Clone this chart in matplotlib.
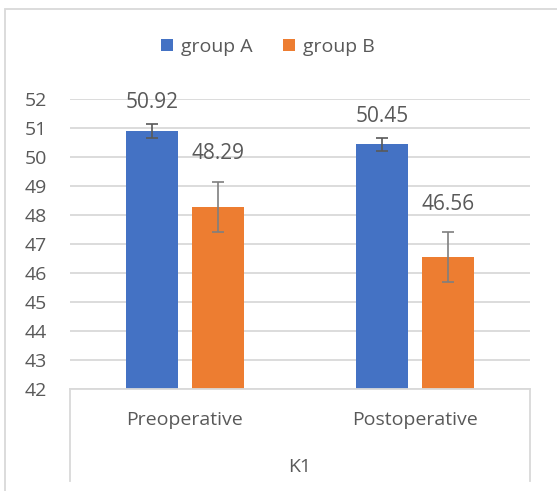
import matplotlib.pyplot as plt
from matplotlib.lines import Line2D
from matplotlib.patches import Rectangle
import numpy as np

# datos
categorias = ["Preoperative", "Postoperative"]
grupo_a = [50.92, 50.45]
grupo_b = [48.29, 46.56]
err_a = [0.24, 0.23]
err_b = [0.87, 0.86]
etiqueta_nivel2 = "K1"
yticks = list(range(42, 53))

plt.rcParams['font.family'] = ['Open Sans', 'DejaVu Sans']
gris_texto = "#595959"
gris_linea = "#d9d9d9"

fig = plt.figure(figsize=(5.57, 4.91), dpi=100)
W, H = 557, 491
ax = fig.add_axes([69.5 / W, 1 - 389 / H, (530 - 69.5) / W, (389 - 99.3) / H])

x = np.arange(len(categorias))
ancho = 0.226
sep = 0.143

ax.bar(x - sep, grupo_a, ancho, bottom=0, color="#4472C4", label="group A", zorder=3)
ax.bar(x + sep, grupo_b, ancho, bottom=0, color="#ED7D31", label="group B", zorder=3)
ax.errorbar(x - sep, grupo_a, yerr=err_a, fmt="none", ecolor="#595959",
            elinewidth=1.2, capsize=4.3, capthick=1.2, zorder=4)
ax.errorbar(x + sep, grupo_b, yerr=err_b, fmt="none", ecolor="#7f7f7f",
            elinewidth=1.2, capsize=4.3, capthick=1.2, zorder=4)

for xi, v, e in zip(x - sep, grupo_a, err_a):
    ax.annotate(f"{v:.2f}", (xi, v + e), xytext=(0, 7.5), textcoords="offset points",
                ha="center", va="bottom", fontsize=15, color=gris_texto)
for xi, v, e in zip(x + sep, grupo_b, err_b):
    ax.annotate(f"{v:.2f}", (xi, v + e), xytext=(0, 12.5), textcoords="offset points",
                ha="center", va="bottom", fontsize=15, color=gris_texto)

ax.set_ylim(42, 52)
ax.set_xlim(-0.5, len(categorias) - 0.5)
ax.set_yticks(yticks)
ax.tick_params(axis="y", length=0, pad=16, labelsize=14, labelcolor=gris_texto)
ax.set_xticks([])
ax.grid(axis="y", color=gris_linea, linewidth=1.3, zorder=0)
for s in ["top", "right", "left"]:
    ax.spines[s].set_visible(False)
ax.spines["bottom"].set_color(gris_linea)
ax.spines["bottom"].set_linewidth(1.3)
ax.spines["bottom"].set_zorder(5)

# etiquetas de categoria
for xi, c in zip(x, categorias):
    ax.text(xi, -31 / 289.0, c, transform=ax.get_xaxis_transform(),
            ha="center", va="center", fontsize=14, color=gris_texto)
ax.text(0.5, -(466.7 - 389) / 289.0, etiqueta_nivel2, transform=ax.transAxes,
        ha="center", va="center", fontsize=14, color=gris_texto)

# lineas verticales del eje de categorias
for px in [69.5, 530]:
    fig.add_artist(Line2D([px / W, px / W], [1 - 389 / H, 1 - 481 / H],
                          color=gris_linea, linewidth=1.3))

# borde del grafico
fig.add_artist(Rectangle((5 / W, -0.1), 1.2, 1.1 - 9 / H, transform=fig.transFigure,
                         fill=False, edgecolor=gris_linea, linewidth=1.3))

fig.legend(loc="center", bbox_to_anchor=(268 / W, 1 - 47 / H), ncol=2, frameon=False,
           fontsize=14, labelcolor=gris_texto, handlelength=0.6, handleheight=0.6,
           handletextpad=0.4, columnspacing=1.6)

plt.savefig("out.png")
